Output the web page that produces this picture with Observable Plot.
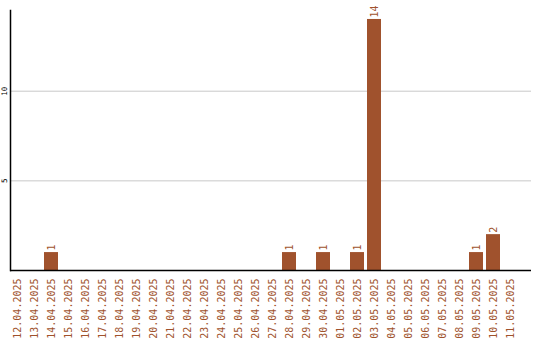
<!DOCTYPE html>
<html>
<head>
<meta charset="utf-8">
<script src="https://cdn.jsdelivr.net/npm/d3@7"></script>
<script src="https://cdn.jsdelivr.net/npm/@observablehq/plot@0.6"></script>
<style>
  html, body { margin: 0; padding: 0; background: #fff; }
  #chart svg { display: block; }
</style>
</head>
<body>
<div id="chart"></div>
<script>
// Daily counts, 12.04.2025 – 11.05.2025
const days = [
  "12.04.2025","13.04.2025","14.04.2025","15.04.2025","16.04.2025","17.04.2025",
  "18.04.2025","19.04.2025","20.04.2025","21.04.2025","22.04.2025","23.04.2025",
  "24.04.2025","25.04.2025","26.04.2025","27.04.2025","28.04.2025","29.04.2025",
  "30.04.2025","01.05.2025","02.05.2025","03.05.2025","04.05.2025","05.05.2025",
  "06.05.2025","07.05.2025","08.05.2025","09.05.2025","10.05.2025","11.05.2025"
];
const counts = [
  0, 0, 1, 0, 0, 0,
  0, 0, 0, 0, 0, 0,
  0, 0, 0, 0, 1, 0,
  1, 0, 1, 14, 0, 0,
  0, 0, 0, 1, 2, 0
];
const yTicks = [5, 10];

const data = days.map((day, i) => ({day, count: counts[i]}));
const bars = data.filter(d => d.count > 0);

const brown = "#a0522d";
const mono = "'DejaVu Sans Mono', monospace";

const chart = Plot.plot({
  width: 540,
  height: 340,
  marginLeft: 10,
  marginRight: 9,
  marginTop: 10,
  marginBottom: 70,
  style: {fontFamily: mono, background: "#fff"},
  x: {type: "band", domain: days, range: [10, 517], paddingInner: 3 / 17, paddingOuter: 0},
  y: {domain: [0, 14.5]},
  marks: [
    Plot.gridY(yTicks, {stroke: "#c8c8c8", strokeOpacity: 1, strokeWidth: 1}),
    Plot.barY(bars, {x: "day", y: "count", fill: brown}),
    Plot.text(bars, {
      x: "day", y: "count", text: d => String(d.count),
      rotate: -90, textAnchor: "start", dy: -2,
      fill: brown, fontSize: 10, fontFamily: mono
    }),
    Plot.axisX({
      tickSize: 0, tickPadding: 8, tickRotate: -90,
      fill: brown, fontSize: 10, fontFamily: mono, label: null
    }),
    Plot.axisY(yTicks, {
      anchor: "left", tickSize: 0, tickPadding: 4, tickRotate: -90,
      fill: "#000", fontSize: 7.5, fontFamily: mono, label: null,
      textAnchor: "middle"
    }),
    // Left axis line and baseline
    Plot.frame({anchor: "left", stroke: "#000", strokeWidth: 1.5}),
    Plot.ruleY([0], {stroke: "#000", strokeWidth: 1.5})
  ]
});

document.getElementById("chart").appendChild(chart);
</script>
</body>
</html>
